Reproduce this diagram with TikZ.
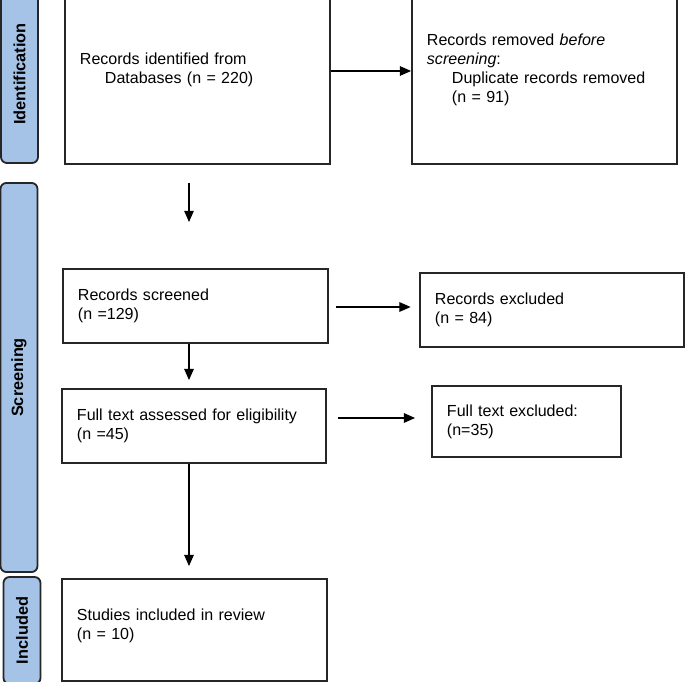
\documentclass[tikz,border=0pt]{standalone}
\usepackage{fontspec}
\setmainfont{Liberation Sans}
\usetikzlibrary{arrows.meta}
\definecolor{phaseblue}{RGB}{164,195,230}
\tikzset{
  box/.style={draw=black!85, line width=1.3pt, inner xsep=0.375cm, align=left,
    font=\fontsize{11.4pt}{13.5pt}\selectfont},
  phase/.style={draw=black!85, fill=phaseblue, line width=1.3pt, rounded corners=0.15cm,
    rotate=90, minimum height=0.925cm, inner sep=0pt,
    font=\fontsize{11.6pt}{13.5pt}\selectfont\bfseries},
  arr/.style={-{Triangle[length=0.28cm,width=0.24cm]}, line width=0.75pt}
}
\begin{document}
\begin{tikzpicture}[x=0.025cm,y=-0.025cm]
  % Frame
  \clip (0,0) rectangle (685,682);

  % Phases
  \node[phase, minimum width=4.45cm] (pid) at (19.5,74) {Identification};
  \node[phase, minimum width=9.725cm] (psc) at (19,377.5) {Screening};
  \node[phase, minimum width=2.675cm] (pin) at (22,630.5) {Included};

  % Boxes
  \node[box, text width=5.875cm, minimum height=4.7cm] (ident) at (197.5,70)
    {Records identified from\\\hspace*{0.625cm}Databases (n = 220)};
  \node[box, text width=5.875cm, minimum height=4.7cm] (removed) at (544.5,70)
    {Records removed \textit{before}\\\textit{screening}:\\
     \hspace*{0.625cm}Duplicate records removed\\\hspace*{0.625cm}(n = 91)};
  \node[box, text width=5.875cm, minimum height=1.85cm] (screened) at (195.5,306)
    {Records screened\\(n =129)};
  \node[box, text width=5.85cm, minimum height=1.85cm] (excluded) at (552,310)
    {Records excluded\\(n = 84)};
  \node[box, text width=5.85cm, minimum height=1.85cm] (assessed) at (194,426)
    {Full text assessed for eligibility\\(n =45)};
  \node[box, text width=3.975cm, minimum height=1.775cm] (ftexcl) at (526.5,421.5)
    {Full text excluded:\\(n=35)};
  \node[box, text width=5.875cm, minimum height=2.55cm] (studies) at (194.5,630)
    {Studies included in review\\(n = 10)\\[-0.2cm]\mbox{}};

  % Arrows
  \coordinate (col) at (189,0);
  \coordinate (a0) at (189,183);
  \coordinate (a1) at (189,222);
  \draw[arr] (ident.east |- 0,71) -- (removed.west |- 0,71);
  \draw[arr] (a0) -- (a1);
  \draw[arr, shorten <=5pt, shorten >=6pt] (screened.east |- 0,307) -- (excluded.west |- 0,307);
  \draw[arr, shorten >=0.2cm] (screened.south -| col) -- (assessed.north -| col);
  \draw[arr, shorten <=0.27cm, shorten >=0.4cm] (assessed.east |- 0,418) -- (ftexcl.west |- 0,418);
  \draw[arr, shorten >=0.3cm] (assessed.south -| col) -- (studies.north -| col);
\end{tikzpicture}
\end{document}
